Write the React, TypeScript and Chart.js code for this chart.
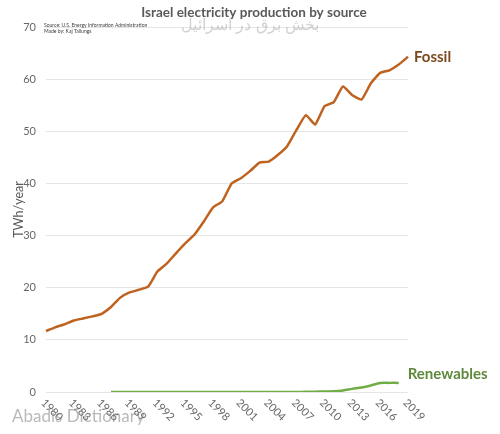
import React, { useEffect, useRef } from "react";
import { Chart, registerables } from "chart.js";

Chart.register(...registerables);

const years: string[] = [];
for (let y = 1980; y <= 2019; y++) years.push(String(y));

const fossil: (number | null)[] = [
  11.7, 12.4, 13.0, 13.7, 14.1, 14.5, 15.0, 16.3, 18.1, 19.1,
  19.6, 20.2, 23.1, 24.6, 26.6, 28.5, 30.2, 32.7, 35.4, 36.6,
  40.0, 41.0, 42.4, 44.0, 44.2, 45.5, 47.2, 50.3, 53.1, 51.3,
  54.8, 55.6, 58.6, 56.9, 56.1, 59.2, 61.2, 61.7, 62.8, 64.3,
];

const renewables: (number | null)[] = [
  null, null, null, null, null, null, null, 0.0, 0.0, 0.0,
  0.0, 0.0, 0.0, 0.0, 0.0, 0.0, 0.0, 0.0, 0.0, 0.0,
  0.0, 0.0, 0.0, 0.0, 0.0, 0.0, 0.0, 0.0, 0.03, 0.05,
  0.1, 0.15, 0.3, 0.6, 0.85, 1.25, 1.72, 1.75, 1.75, null,
];

const yTicks = [0, 10, 20, 30, 40, 50, 60, 70];
const xTickStep = 3;

const titleText = "Israel electricity production by source";
const sourceLines = ["Source: U.S. Energy Information Administration", "Made by: Kaj Tallungs"];
const seriesLabels = ["Fossil", "Renewables"];
const watermarkFa = "بخش برق در اسرائیل";
const watermarkEn = "Abadis Dictionary";

const FONT = "Lato, 'Open Sans', sans-serif";
const GRAY = "#595959";

const overlay = {
  id: "overlay",
  afterDraw(chart: any) {
    const ctx = chart.ctx as CanvasRenderingContext2D;
    const xs = chart.scales.x;
    const ys = chart.scales.y;
    ctx.save();
    // x tick labels rotated downward
    ctx.fillStyle = "#666666";
    ctx.font = `11px ${FONT}`;
    ctx.textAlign = "left";
    ctx.textBaseline = "middle";
    years.forEach((yr, i) => {
      if ((Number(yr) - 1980) % xTickStep !== 0) return;
      const x = xs.getPixelForValue(i);
      ctx.save();
      ctx.translate(x - 3, 401);
      ctx.rotate(Math.PI / 4);
      ctx.fillText(yr, 0, 0);
      ctx.restore();
    });
    // title
    ctx.font = `bold 13.5px ${FONT}`;
    ctx.textAlign = "center";
    ctx.textBaseline = "middle";
    ctx.fillStyle = GRAY;
    ctx.fillText(titleText, 254, 13);
    // source
    ctx.font = `5px ${FONT}`;
    ctx.textAlign = "left";
    ctx.fillStyle = "#404040";
    ctx.fillText(sourceLines[0], 44, 25);
    ctx.fillText(sourceLines[1], 44, 31);
    // series labels
    const lastF = fossil.length - 1;
    ctx.font = `bold 15px ${FONT}`;
    ctx.fillStyle = "#7a4a1e";
    ctx.fillText(seriesLabels[0], xs.getPixelForValue(lastF) + 6, ys.getPixelForValue(fossil[lastF] as number));
    let lastR = renewables.length - 1;
    while (renewables[lastR] == null) lastR--;
    ctx.fillStyle = "#5f8a3c";
    ctx.fillText(seriesLabels[1], xs.getPixelForValue(lastR) + 9, ys.getPixelForValue(renewables[lastR] as number) - 9);
    // watermarks
    ctx.globalAlpha = 0.35;
    ctx.fillStyle = "#808080";
    ctx.font = `16px ${FONT}`;
    ctx.textAlign = "center";
    ctx.fillText(watermarkFa, 250, 25);
    ctx.textAlign = "left";
    ctx.font = `17px ${FONT}`;
    ctx.globalAlpha = 0.55;
    ctx.fillText(watermarkEn, 12, 417);
    ctx.restore();
  },
};

export default function App() {
  const ref = useRef<HTMLCanvasElement | null>(null);
  useEffect(() => {
    if (!ref.current) return;
    const chart = new Chart(ref.current, {
      type: "line",
      data: {
        labels: years,
        datasets: [
          {
            label: seriesLabels[0],
            data: fossil,
            borderColor: "#c0621f",
            borderWidth: 2.5,
            pointRadius: 0,
            tension: 0.15,
            fill: false,
          },
          {
            label: seriesLabels[1],
            data: renewables,
            borderColor: "#70ad47",
            borderWidth: 2.5,
            pointRadius: 0,
            tension: 0.3,
            fill: false,
            spanGaps: false,
          },
        ],
      },
      options: {
        animation: false,
        responsive: true,
        maintainAspectRatio: false,
        layout: { padding: { left: 0, right: 92, top: 27, bottom: 0 } },
        plugins: { legend: { display: false }, tooltip: { enabled: false }, title: { display: false } },
        scales: {
          x: {
            type: "category",
            offset: false,
            grid: { display: false },
            border: { display: false },
            ticks: { display: false },
            afterFit: (s: any) => {
              s.height = 42;
            },
          },
          y: {
            min: 0,
            max: 70,
            afterBuildTicks: (s: any) => {
              s.ticks = yTicks.map((v) => ({ value: v }));
            },
            grid: { color: "#e6e6e6", lineWidth: 1, drawTicks: false },
            border: { display: false },
            ticks: { color: "#666666", font: { family: FONT, size: 11 }, padding: 10 },
            title: {
              display: true,
              text: "TWh/year",
              color: GRAY,
              font: { family: FONT, size: 12.5 },
              padding: { top: 11, bottom: 0 },
            },
            afterFit: (s: any) => {
              s.width = 46;
            },
          },
        },
      },
      plugins: [overlay],
    });
    return () => chart.destroy();
  }, []);
  return (
    <div style={{ position: "fixed", left: 0, top: 0, width: 500, height: 434, background: "#fff" }}>
      <canvas ref={ref} />
    </div>
  );
}
